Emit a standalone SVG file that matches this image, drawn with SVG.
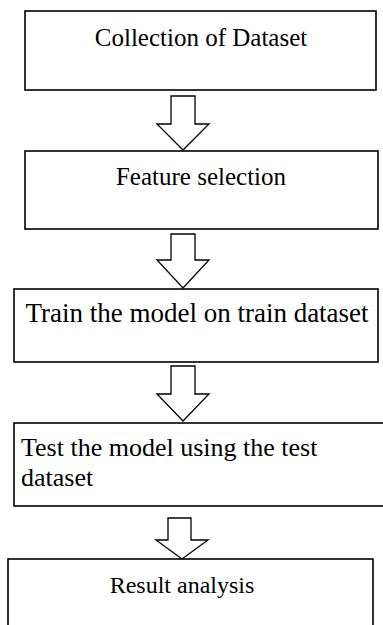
<svg xmlns="http://www.w3.org/2000/svg" width="383" height="625" viewBox="0 0 383 625">
<style>
.box{fill:#fff;stroke:#000;stroke-width:1.6}
.arr{fill:#fff;stroke:#000;stroke-width:1.3;stroke-linejoin:miter}
.t{font-family:"Liberation Serif","Times New Roman",serif;font-size:25px;fill:#000}
</style>
<rect width="383" height="625" fill="#fff"/>
<g id="connectors">
<path class="arr" d="M171,96 H195 V124 H209 L183,150 L157,124 H171 Z"/>
<path class="arr" d="M171,234 H195 V260 H209 L183,288 L157,260 H171 Z"/>
<path class="arr" d="M171,366 H195 V394 H209 L183,421 L157,394 H171 Z"/>
<path class="arr" d="M168,518 H191 V540 H208 L182,559 L156,540 H168 Z"/>
</g>
<g id="n1"><rect class="box" x="25" y="11" width="351" height="79"/><text class="t" x="201" y="46" text-anchor="middle">Collection of Dataset</text></g>
<g id="n2"><rect class="box" x="25" y="151" width="353" height="78"/><text class="t" x="201" y="185" text-anchor="middle">Feature selection</text></g>
<g id="n3"><rect class="box" x="14" y="289" width="364" height="73"/><text class="t" x="197" y="322" text-anchor="middle" style="font-size:27px">Train the model on train dataset</text></g>
<g id="n4"><rect class="box" x="14" y="423" width="380" height="83"/><text class="t" x="21" y="456" style="font-size:26px">Test the model using the test</text><text class="t" x="21" y="486" style="font-size:26px">dataset</text></g>
<g id="n5"><rect class="box" x="8" y="559" width="365" height="80"/><text class="t" x="182" y="593" text-anchor="middle" style="font-size:24px">Result analysis</text></g>
</svg>
